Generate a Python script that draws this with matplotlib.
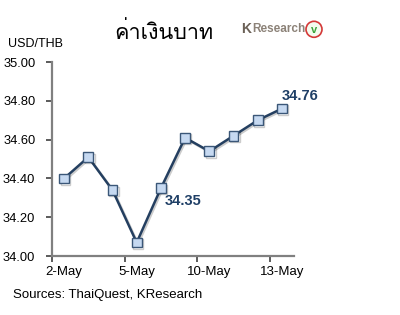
import matplotlib
matplotlib.use("Agg")
import matplotlib.pyplot as plt
import matplotlib.patheffects as pe
from matplotlib import font_manager
from matplotlib.patches import Ellipse
from fontTools.ttLib import TTFont

# Data
dates = ["2-May", "3-May", "4-May", "5-May", "6-May",
         "9-May", "10-May", "11-May", "12-May", "13-May"]
usd_thb = [34.40, 34.51, 34.34, 34.07, 34.35, 34.61, 34.54, 34.62, 34.70, 34.76]
label_idx = [4, 9]
yticks = [34.00, 34.20, 34.40, 34.60, 34.80, 35.00]
title = "ค่าเงินบาท"
source = "Sources: ThaiQuest, KResearch"


# หา font ที่มีอักษรไทย
def find_thai_font():
    for f in font_manager.fontManager.ttflist:
        try:
            tt = TTFont(f.fname, fontNumber=0, lazy=True)
            if 0x0E04 in tt.getBestCmap():
                return f.name
        except Exception:
            continue
    return "DejaVu Sans"


thai_font = find_thai_font()
plt.rcParams['font.family'] = ['Liberation Sans', 'DejaVu Sans']

fig = plt.figure(figsize=(4.0, 3.15), dpi=100)
ax = fig.add_axes([0.13, 0.187, 0.605, 0.616])

x = list(range(len(usd_thb)))
navy = "#243F60"
ax.plot(x, usd_thb, color=navy, lw=1.8, marker="s", ms=7,
        mfc="#C6D9F1", mec="#3B5778", mew=1.0, zorder=3,
        path_effects=[pe.SimpleLineShadow(offset=(1.0, -1.0), alpha=0.2), pe.Normal()])

# etiquetas
ax.annotate(f"{usd_thb[label_idx[0]]:.2f}", (label_idx[0], usd_thb[label_idx[0]]),
            xytext=(3, -9), textcoords="offset points", ha="left", va="center",
            fontsize=10.5, fontweight="bold", color="#1F3F66")
ax.annotate(f"{usd_thb[label_idx[1]]:.2f}", (label_idx[1], usd_thb[label_idx[1]]),
            xytext=(0, 9), textcoords="offset points", ha="left", va="center",
            fontsize=10.5, fontweight="bold", color="#1F3F66")

ax.set_xlim(-0.5, len(usd_thb) - 0.5)
ax.set_ylim(34.0, 35.0)
ax.set_yticks(yticks)
ax.set_yticklabels([f"{v:.2f}" for v in yticks])

ax.set_xticks([-0.5, 2.5, 5.5, 8.5])
ax.set_xticklabels([])
ax.set_xticks([0, 3, 6, 9], minor=True)
ax.set_xticklabels([dates[i] for i in [0, 3, 6, 9]], minor=True)
ax.tick_params(axis="x", which="minor", length=0, pad=7, labelsize=9.5)
ax.tick_params(axis="x", which="major", length=4, width=1.2, color="#404040")
ax.tick_params(axis="y", length=4, width=1.2, color="#404040", labelsize=9.3, pad=8)

for s in ["top", "right"]:
    ax.spines[s].set_visible(False)
for s in ["left", "bottom"]:
    ax.spines[s].set_color("#808080")
    ax.spines[s].set_linewidth(1.6)

fig.text(0.02, 0.86, "USD/THB", fontsize=9, ha="left", va="center")
fig.text(0.41, 0.895, title, family=[thai_font, "DejaVu Sans"], fontsize=15.5,
         ha="center", va="center", color="black")

# logo
fig.text(0.603, 0.907, "K", fontsize=10, fontweight="bold", color="#6B6157",
         ha="left", va="center")
fig.text(0.630, 0.907, "Research", fontsize=8.5, fontweight="bold", color="#8C8278",
         ha="left", va="center")
fig.patches.append(Ellipse((0.785, 0.907), 16 / 400, 16 / 315, transform=fig.transFigure,
                           fc="#F4FBEF", ec="#D43838", lw=1.2))
fig.text(0.785, 0.905, "v", fontsize=8, fontweight="bold", color="#3AA43A",
         ha="center", va="center")

fig.text(0.033, 0.065, source, fontsize=9.5, ha="left", va="center")

fig.savefig("out.png", dpi=100)
